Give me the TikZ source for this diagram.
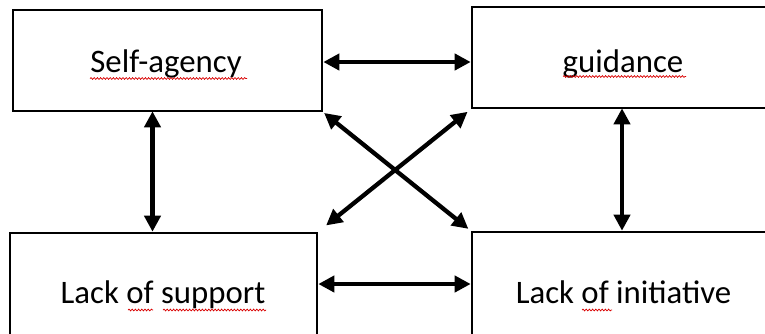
\documentclass[tikz,border=0pt]{standalone}
\usepackage{fontspec}
\setmainfont{Carlito}
\usetikzlibrary{arrows.meta,decorations.pathmorphing}
\begin{document}
\begin{tikzpicture}[x=1pt,y=-1pt,
  box/.style={draw=black,line width=2.6pt,rectangle,inner sep=0pt},
  lbl/.style={anchor=base,inner sep=0pt,font=\fontsize{32.8}{39}\selectfont},
  link/.style={line width=4.3pt,{Triangle[length=16pt,width=16pt]}-{Triangle[length=16pt,width=16pt]}},
  spell/.style={draw=red!85!black,line width=0.7pt,decorate,
    decoration={snake,amplitude=0.9pt,segment length=3.2pt}}]
  \useasboundingbox (0,0) rectangle (765,333);
  \fill[white] (0,0) rectangle (765,333);
  \clip (0,0) rectangle (765,333);

  % the four boxes (the right and bottom ones run past the page edge)
  \node[box,minimum width=309pt,minimum height=101pt] (self) at (167.5,60.5) {};
  \node[box,minimum width=300pt,minimum height=101pt] (guid) at (622,57.5) {};
  \node[box,minimum width=307pt,minimum height=107pt] (supp) at (163.5,286.5) {};
  \node[box,minimum width=303pt,minimum height=108pt] (init) at (623.5,286) {};

  % labels
  \node[lbl] (tself) at (166,72) {Self-agency};
  \node[lbl] (tguid) at (623,72) {guidance};
  \node[lbl] (tsupp) at (163,303) {Lack of support};
  \node[lbl] (tinit) at (623.5,303) {Lack of initiative};

  % spell-check underlines
  \draw[spell] (90,78.5) -- (247,78.5);
  \draw[spell] (563,76.5) -- (686,76.5);
  \draw[spell] (128,310) -- (153,310);
  \draw[spell] (163,310) -- (266,310);
  \draw[spell] (582,310) -- (612,310);

  % two-way links between the boxes
  \draw[link] ([yshift=-1.5pt]self.east) -- ([yshift=-1.5pt]self.east -| guid.west);
  \draw[link] ([yshift=2.5pt]supp.east) -- ([yshift=2.5pt]supp.east -| init.west);
  \draw[link] ([xshift=-15pt,yshift=1pt]self.south) -- ([xshift=-15pt]self.south |- supp.north);
  \draw[link] ([yshift=1pt]guid.south) -- (guid.south |- init.north);
  \draw[link,shorten <=1pt,shorten >=3pt] (self.south east) -- (init.north west);
  \draw[link,shorten <=4pt,shorten >=10pt] (guid.south west) -- (supp.north east);
\end{tikzpicture}
\end{document}
